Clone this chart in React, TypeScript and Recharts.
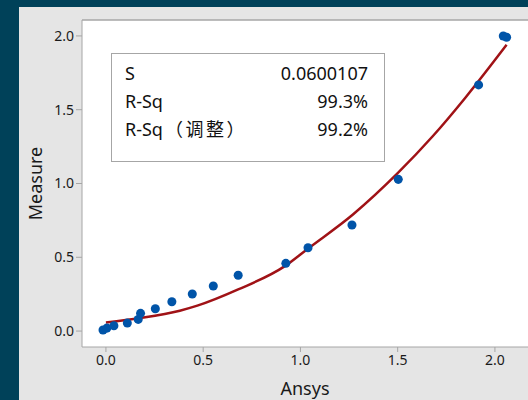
import React from 'react';
import {
  ScatterChart,
  Scatter,
  XAxis,
  YAxis,
  ZAxis,
  CartesianGrid,
  ReferenceLine,
} from 'recharts';

// measured points (Ansys vs Measure)
const ansysVals = [-0.015, 0.005, 0.041, 0.11, 0.166, 0.178, 0.254, 0.339, 0.444, 0.552, 0.68, 0.925, 1.039, 1.265, 1.503, 1.916, 2.043, 2.06];
const measureVals = [0.007, 0.02, 0.036, 0.054, 0.079, 0.12, 0.151, 0.199, 0.251, 0.305, 0.378, 0.459, 0.565, 0.719, 1.028, 1.668, 2.0, 1.991];

// fitted curve
const fitX = [0, 0.175, 0.38, 0.47, 0.68, 0.92, 1.04, 1.27, 1.5, 1.68, 1.85, 2.06];
const fitY = [0.058, 0.088, 0.138, 0.172, 0.282, 0.44, 0.56, 0.79, 1.07, 1.32, 1.585, 1.94];

const xTicks = [0, 0.5, 1, 1.5, 2];
const yTicks = [0, 0.5, 1, 1.5, 2];

const statLabels = ['S', 'R-Sq', 'R-Sq（调整）'];
const statValues = ['0.0600107', '99.3%', '99.2%'];

const points = ansysVals.map((x, i) => ({ x, y: measureVals[i] }));
const fitLine = fitX.map((x, i) => ({ x, y: fitY[i] }));

const FONT = '"Noto Sans", "Noto Sans CJK SC", sans-serif';
const BORDER = '#a6a6a6';

// full-width brackets get a little extra room, like the original dialog font
const StatLabel = ({ text }: { text: string }) => {
  const k = text.indexOf('（');
  if (k < 0) return <span>{text}</span>;
  return (
    <span>
      {text.slice(0, k)}
      <span style={{ letterSpacing: 2.5, marginLeft: 2 }}>{text.slice(k)}</span>
    </span>
  );
};

export default function App() {
  return (
    <div style={{ position: 'absolute', left: 0, top: 0, width: 528, height: 400, background: '#004159', overflow: 'hidden', fontFamily: FONT }}>
      <div style={{ position: 'absolute', left: 19, top: 7, width: 509, height: 393, background: '#e5e5e5' }}>
        <ScatterChart width={509} height={393} margin={{ top: 13, right: 0, left: 0, bottom: 0 }}>
          <CartesianGrid horizontal={false} vertical={false} fill="#ffffff" />
          <XAxis
            type="number"
            dataKey="x"
            domain={[-0.123, 2.17]}
            allowDataOverflow
            ticks={xTicks}
            tickFormatter={(v: number) => v.toFixed(1)}
            height={53}
            tickSize={5}
            tickMargin={3}
            stroke={BORDER}
            tick={{ fontSize: 14, fill: '#1a1a1a', fontFamily: FONT }}
            label={{ value: 'Ansys', position: 'center', dy: 15, fontSize: 18, fill: '#1a1a1a', fontFamily: FONT }}
          />
          <YAxis
            type="number"
            dataKey="y"
            domain={[-0.108, 2.108]}
            allowDataOverflow
            ticks={yTicks}
            tickFormatter={(v: number) => v.toFixed(1)}
            width={63}
            tickSize={6}
            tickMargin={2}
            stroke={BORDER}
            tick={{ fontSize: 14, fill: '#1a1a1a', fontFamily: FONT }}
            label={{ value: 'Measure', angle: -90, position: 'center', dx: -15, fontSize: 18, fill: '#1a1a1a', fontFamily: FONT }}
          />
          <ZAxis range={[80, 80]} />
          <ReferenceLine y={2.108} stroke={BORDER} strokeWidth={1.5} ifOverflow="visible" />
          <Scatter
            data={fitLine}
            line={{ stroke: '#a01216', strokeWidth: 2.5 }}
            lineType="joint"
            lineJointType="monotoneX"
            shape={() => null}
            isAnimationActive={false}
          />
          <Scatter data={points} fill="#0054a8" isAnimationActive={false} />
        </ScatterChart>
        <div
          style={{
            position: 'absolute',
            left: 92,
            top: 46,
            width: 272,
            height: 107,
            border: `1.5px solid ${BORDER}`,
            background: '#fff',
            color: '#111',
            fontSize: 18,
          }}
        >
          {statLabels.map((lab, i) => (
            <div key={lab} style={{ position: 'absolute', left: 13, top: 6 + i * 28, width: 243, height: 26, lineHeight: '26px' }}>
              <StatLabel text={lab} />
              <span style={{ position: 'absolute', right: 0 }}>{statValues[i]}</span>
            </div>
          ))}
        </div>
      </div>
    </div>
  );
}
